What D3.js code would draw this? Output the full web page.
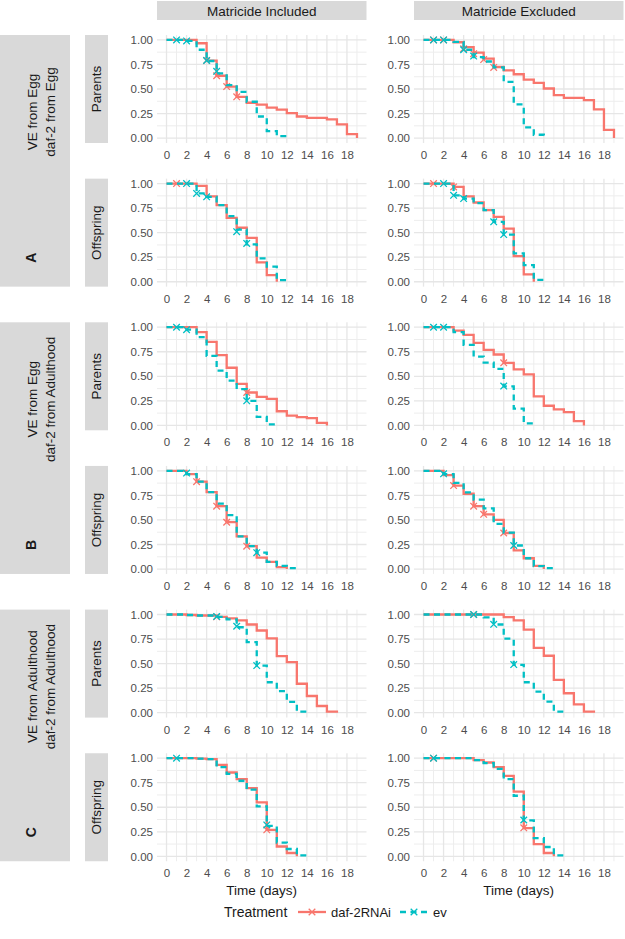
<!DOCTYPE html>
<html><head><meta charset="utf-8">
<script src="https://cdn.jsdelivr.net/npm/d3@7"></script>
<style>body{margin:0;background:#fff}svg{display:block;font-family:"Liberation Sans",Arial,sans-serif}</style>
</head><body><svg id="c" width="625" height="939"></svg>
<script>
// ---------- labels & ticks ----------
const columns = ["Matricide Included", "Matricide Excluded"];
const rowTypes = ["Parents", "Offspring"];
const groups = ["A", "B", "C"];
const groupLine1 = ["VE from Egg", "VE from Egg", "VE from Adulthood"];
const groupLine2 = ["daf-2 from Egg", "daf-2 from Adulthood", "daf-2 from Adulthood"];
const xTicks = [0, 2, 4, 6, 8, 10, 12, 14, 16, 18];
const yTicks = [0, 0.25, 0.5, 0.75, 1];
const treatments = ["daf-2RNAi", "ev"];
const xTitle = "Time (days)";
const legendTitle = "Treatment";

// ---------- survival per day (value on [day, day+1); last value = end) ----------
const A_par_inc_daf2 = [1,1,1,0.966,0.79,0.635,0.525,0.42,0.36,0.34,0.31,0.29,0.255,0.22,0.205,0.205,0.19,0.14,0.04,0];
const A_par_inc_ev   = [1,1,0.99,0.90,0.785,0.66,0.54,0.47,0.37,0.22,0.07,0.02,0];
const A_par_exc_daf2 = [1,1,1,0.976,0.926,0.87,0.81,0.724,0.69,0.65,0.596,0.562,0.505,0.438,0.41,0.41,0.387,0.293,0.084,0];
const A_par_exc_ev   = [1,1,1,0.98,0.90,0.825,0.78,0.72,0.572,0.343,0.11,0.034,0];
const A_off_inc_daf2 = [1,1,1,0.976,0.87,0.78,0.65,0.55,0.447,0.197,0.068,0];
const A_off_inc_ev   = [1,1,1,0.90,0.865,0.78,0.668,0.53,0.38,0.237,0.153,0.017,0];
const A_off_exc_daf2 = [1,1,1,0.966,0.87,0.807,0.73,0.66,0.54,0.26,0.075,0];
const A_off_exc_ev   = [1,1,1,0.88,0.847,0.80,0.73,0.61,0.48,0.288,0.17,0.02,0];
const B_par_inc_daf2 = [1,1,1,0.95,0.85,0.715,0.587,0.423,0.335,0.29,0.27,0.144,0.10,0.085,0.074,0.025,0];
const B_par_inc_ev   = [1,1,0.975,0.90,0.708,0.557,0.456,0.37,0.25,0.087,0.01,0];
const B_par_exc_daf2 = [1,1,1,0.966,0.922,0.84,0.77,0.722,0.637,0.57,0.52,0.295,0.20,0.163,0.136,0.044,0];
const B_par_exc_ev   = [1,1,1,0.95,0.82,0.70,0.64,0.576,0.397,0.17,0.02,0];
const B_off_inc_daf2 = [1,1,0.967,0.89,0.783,0.64,0.477,0.333,0.233,0.117,0.073,0.02,0];
const B_off_inc_ev   = [1,1,0.967,0.89,0.783,0.667,0.55,0.333,0.233,0.167,0.073,0.033,0.01,0];
const B_off_exc_daf2 = [1,1,0.957,0.85,0.767,0.64,0.557,0.50,0.367,0.19,0.11,0.033,0];
const B_off_exc_ev   = [1,1,0.967,0.877,0.78,0.707,0.617,0.46,0.37,0.24,0.11,0.03,0.01,0];
const C_par_inc_daf2 = [1,1,0.995,0.99,0.99,0.976,0.96,0.94,0.898,0.837,0.756,0.576,0.515,0.295,0.17,0.068,0.01,0];
const C_par_inc_ev   = [1,1,0.995,0.99,0.99,0.976,0.95,0.87,0.718,0.48,0.31,0.22,0.11,0.01,0];
const C_par_exc_daf2 = [1,1,1,1,1,1,1,1,0.973,0.94,0.846,0.66,0.58,0.334,0.198,0.085,0.01,0];
const C_par_exc_ev   = [1,1,1,1,1,1,0.97,0.898,0.754,0.488,0.31,0.215,0.113,0.01,0];
const C_off_inc_daf2 = [1,1,1,0.995,0.99,0.932,0.854,0.786,0.695,0.549,0.27,0.10,0.034,0];
const C_off_inc_ev   = [1,1,1,0.995,0.99,0.908,0.84,0.77,0.68,0.508,0.31,0.14,0.075,0.01,0];
const C_off_exc_daf2 = [1,1,1,1,1,0.98,0.956,0.908,0.82,0.66,0.288,0.125,0.034,0];
const C_off_exc_ev   = [1,1,1,1,1,0.98,0.95,0.89,0.786,0.617,0.366,0.186,0.095,0.01,0];

// ---------- censoring marks [day, survival] ----------
const A_par_inc_daf2_cens = [[4,0.79],[5,0.635],[6,0.525],[7,0.42]];
const A_par_inc_ev_cens   = [[1,1],[2,0.99],[4,0.79],[5,0.68]];
const A_par_exc_daf2_cens = [[1,1],[2,1],[4,0.91],[5,0.86],[6,0.80],[7,0.72]];
const A_par_exc_ev_cens   = [[1,1],[2,1],[4,0.90],[5,0.835]];
const A_off_inc_daf2_cens = [[1,1]];
const A_off_inc_ev_cens   = [[2,1],[3,0.90],[4,0.865],[7,0.51],[8,0.39]];
const A_off_exc_daf2_cens = [[1,1],[3,0.966]];
const A_off_exc_ev_cens   = [[2,1],[3,0.88],[4,0.847],[7,0.61],[8,0.48]];
const B_par_inc_daf2_cens = [[8,0.335]];
const B_par_inc_ev_cens   = [[1,1],[2,0.975],[8,0.25]];
const B_par_exc_daf2_cens = [[8,0.637]];
const B_par_exc_ev_cens   = [[1,1],[2,1],[8,0.40]];
const B_off_inc_daf2_cens = [[3,0.89],[5,0.64],[6,0.477],[8,0.233]];
const B_off_inc_ev_cens   = [[2,0.977],[9,0.167]];
const B_off_exc_daf2_cens = [[3,0.85],[5,0.64],[6,0.557],[8,0.367]];
const B_off_exc_ev_cens   = [[2,0.97],[9,0.24]];
const C_par_inc_daf2_cens = [[5,0.976]];
const C_par_inc_ev_cens   = [[5,0.98],[7,0.88],[9,0.48]];
const C_par_exc_daf2_cens = [[5,1]];
const C_par_exc_ev_cens   = [[5,1],[7,0.90],[9,0.49]];
const C_off_inc_daf2_cens = [[10,0.27]];
const C_off_inc_ev_cens   = [[1,1],[10,0.32]];
const C_off_exc_daf2_cens = [[1,1],[10,0.29]];
const C_off_exc_ev_cens   = [[1,1],[10,0.37]];

const colors = ["#F8766D", "#00BFC4"];

// panel table: [row][col] -> {daf2, ev, daf2c, evc}
const panelData = [
  [[A_par_inc_daf2, A_par_inc_ev, A_par_inc_daf2_cens, A_par_inc_ev_cens], [A_par_exc_daf2, A_par_exc_ev, A_par_exc_daf2_cens, A_par_exc_ev_cens]],
  [[A_off_inc_daf2, A_off_inc_ev, A_off_inc_daf2_cens, A_off_inc_ev_cens], [A_off_exc_daf2, A_off_exc_ev, A_off_exc_daf2_cens, A_off_exc_ev_cens]],
  [[B_par_inc_daf2, B_par_inc_ev, B_par_inc_daf2_cens, B_par_inc_ev_cens], [B_par_exc_daf2, B_par_exc_ev, B_par_exc_daf2_cens, B_par_exc_ev_cens]],
  [[B_off_inc_daf2, B_off_inc_ev, B_off_inc_daf2_cens, B_off_inc_ev_cens], [B_off_exc_daf2, B_off_exc_ev, B_off_exc_daf2_cens, B_off_exc_ev_cens]],
  [[C_par_inc_daf2, C_par_inc_ev, C_par_inc_daf2_cens, C_par_inc_ev_cens], [C_par_exc_daf2, C_par_exc_ev, C_par_exc_daf2_cens, C_par_exc_ev_cens]],
  [[C_off_inc_daf2, C_off_inc_ev, C_off_inc_daf2_cens, C_off_inc_ev_cens], [C_off_exc_daf2, C_off_exc_ev, C_off_exc_daf2_cens, C_off_exc_ev_cens]]
];

// ---------- layout ----------
const svg = d3.select("#c");
const colX = [157, 414], panelW = 209.5, panelH = 108;
const rowTop = i => 35 + i * 143.65;
const stripFill = "#D9D9D9";
const tickColor = "#4D4D4D";
const lineW = 2.3;
const dash = "6,4.5";
const sym = d3.symbol(d3.symbolX, 30);

// column strips
columns.forEach((c, j) => {
  svg.append("rect").attr("x", colX[j]).attr("y", 1).attr("width", panelW).attr("height", 19).attr("fill", stripFill);
  svg.append("text").attr("x", colX[j] + panelW / 2).attr("y", 15.5).attr("text-anchor", "middle")
    .attr("font-size", 13.5).attr("fill", "#1A1A1A").text(c);
});

// group strips
groups.forEach((g, k) => {
  const top = rowTop(2 * k), bot = rowTop(2 * k + 1) + panelH;
  svg.append("rect").attr("x", 0).attr("y", top).attr("width", 70).attr("height", bot - top).attr("fill", stripFill);
  const cy = top + 77;
  svg.append("text").attr("transform", `translate(37,${cy}) rotate(-90)`).attr("text-anchor", "middle")
    .attr("font-size", 13.5).attr("fill", "#1A1A1A").text(groupLine1[k]);
  svg.append("text").attr("transform", `translate(55,${cy}) rotate(-90)`).attr("text-anchor", "middle")
    .attr("font-size", 13.5).attr("fill", "#1A1A1A").text(groupLine2[k]);
  svg.append("text").attr("transform", `translate(36,${bot - 29}) rotate(-90)`).attr("text-anchor", "middle")
    .attr("font-size", 14).attr("font-weight", "bold").attr("fill", "#1A1A1A").text(g);
});

const line = d3.line().curve(d3.curveStepAfter);

for (let r = 0; r < 6; r++) {
  const top = rowTop(r);
  // row strip
  svg.append("rect").attr("x", 85).attr("y", top).attr("width", 23).attr("height", panelH).attr("fill", stripFill);
  svg.append("text").attr("transform", `translate(101,${top + panelH / 2}) rotate(-90)`).attr("text-anchor", "middle")
    .attr("font-size", 13.5).attr("fill", "#1A1A1A").text(rowTypes[r % 2]);

  for (let c = 0; c < 2; c++) {
    const x = d3.scaleLinear().domain([-0.95, 19.95]).range([colX[c], colX[c] + panelW]);
    const y = d3.scaleLinear().domain([-0.05, 1.05]).range([top + panelH, top]);
    const g = svg.append("g");
    // minor grid
    const minorX = d3.range(1, 20, 2), minorY = [0.125, 0.375, 0.625, 0.875];
    g.selectAll(null).data(minorX).join("line").attr("x1", d => x(d)).attr("x2", d => x(d))
      .attr("y1", top).attr("y2", top + panelH).attr("stroke", "#EDEDED").attr("stroke-width", 1);
    g.selectAll(null).data(minorY).join("line").attr("y1", d => y(d)).attr("y2", d => y(d))
      .attr("x1", colX[c]).attr("x2", colX[c] + panelW).attr("stroke", "#EDEDED").attr("stroke-width", 1);
    // major grid
    g.selectAll(null).data(xTicks).join("line").attr("x1", d => x(d)).attr("x2", d => x(d))
      .attr("y1", top).attr("y2", top + panelH).attr("stroke", "#E6E6E6").attr("stroke-width", 1.3);
    g.selectAll(null).data(yTicks).join("line").attr("y1", d => y(d)).attr("y2", d => y(d))
      .attr("x1", colX[c]).attr("x2", colX[c] + panelW).attr("stroke", "#E6E6E6").attr("stroke-width", 1.3);
    // axes labels
    const xa = svg.append("g").attr("transform", `translate(0,${top + panelH})`)
      .call(d3.axisBottom(x).tickValues(xTicks).tickSize(0).tickPadding(8).tickFormat(d3.format("d")));
    xa.select(".domain").remove();
    xa.selectAll("text").attr("font-size", 11.5).attr("fill", tickColor).attr("font-family", "Liberation Sans, Arial, sans-serif");
    const ya = svg.append("g").attr("transform", `translate(${colX[c]},0)`)
      .call(d3.axisLeft(y).tickValues(yTicks).tickSize(0).tickPadding(4).tickFormat(d3.format(".2f")));
    ya.select(".domain").remove();
    ya.selectAll("text").attr("font-size", 11.5).attr("fill", tickColor).attr("font-family", "Liberation Sans, Arial, sans-serif");

    const pd = panelData[r][c];
    [0, 1].forEach(s => {
      const vals = pd[s];
      g.append("path").attr("d", line(vals.map((v, i) => [x(i), y(v)])))
        .attr("fill", "none").attr("stroke", colors[s]).attr("stroke-width", lineW)
        .attr("stroke-dasharray", s === 1 ? dash : null);
      g.selectAll(null).data(pd[s + 2]).join("path").attr("d", sym)
        .attr("transform", d => `translate(${x(d[0])},${y(d[1])})`)
        .attr("fill", "none").attr("stroke", colors[s]).attr("stroke-width", 1.3);
    });
  }
}

// x titles
[0, 1].forEach(c => {
  svg.append("text").attr("x", colX[c] + panelW / 2).attr("y", 895).attr("text-anchor", "middle")
    .attr("font-size", 13.5).attr("fill", "#1A1A1A").text(xTitle);
});

// legend
const lg = svg.append("g");
lg.append("text").attr("x", 224).attr("y", 917).attr("font-size", 14).attr("fill", "#1A1A1A").text(legendTitle);
const keyX = [298, 400], labX = [331, 433];
treatments.forEach((t, i) => {
  lg.append("line").attr("x1", keyX[i]).attr("x2", keyX[i] + 28).attr("y1", 912).attr("y2", 912)
    .attr("stroke", colors[i]).attr("stroke-width", lineW).attr("stroke-dasharray", i === 1 ? dash : null);
  lg.append("path").attr("d", sym).attr("transform", `translate(${keyX[i] + 14},912)`)
    .attr("fill", "none").attr("stroke", colors[i]).attr("stroke-width", 1.3);
  lg.append("text").attr("x", labX[i]).attr("y", 917).attr("font-size", 13).attr("fill", "#1A1A1A").text(t);
});
</script></body></html>
